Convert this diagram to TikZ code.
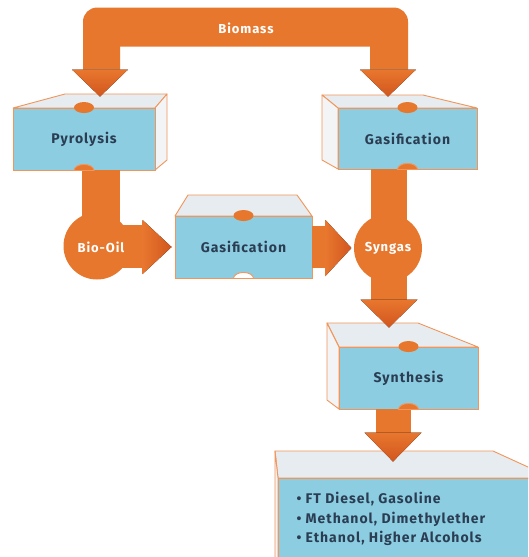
\documentclass[tikz,border=0pt]{standalone}
\usepackage{fontspec}
\setmainfont{Fira Sans}
\newfontfamily\lblfont[LetterSpace=7]{Fira Sans}
\usetikzlibrary{calc}
\definecolor{org}{HTML}{E8772E}
\definecolor{orgdark}{HTML}{D2561E}
\definecolor{orgline}{HTML}{F2955A}
\definecolor{face}{HTML}{8CCDE1}
\definecolor{topf}{HTML}{E6ECF0}
\definecolor{sidef}{HTML}{F2F4F6}
\definecolor{txt}{HTML}{2A3D52}
\tikzset{
  front/.style={draw=orgline, line width=0.9pt, fill=face, inner sep=0pt,
    text=txt, font=\lblfont\bfseries\fontsize{14}{16}\selectfont},
  topface/.style={draw=orgline, line width=0.9pt, fill=topf, line join=round},
  sideface/.style={draw=orgline, line width=0.9pt, fill=sidef, line join=round},
  band/.style={fill=org},
  headv/.style={top color=org, bottom color=orgdark},
  headh/.style={left color=org, right color=orgdark},
  blob/.style={circle, fill=org, minimum size=67pt, inner sep=0pt, text=white,
    font=\lblfont\bfseries\fontsize{13}{15}\selectfont},
  whitelbl/.style={text=white, font=\lblfont\bfseries\fontsize{13}{15}\selectfont},
  dot/.style={fill=org},
}
\newcommand\headDown[3]{\fill[headv] (#1) -- ++(-#2,-#3) -- ++(2*#2,0) -- cycle;}
\newcommand\headRight[3]{\fill[headh] (#1) -- ++(-#3,-#2) -- ++(0,2*#2) -- cycle;}
\newcommand\notch[1]{\draw[draw=orgline, line width=0.9pt, fill=org] ($(#1)+(-10,0)$) arc (180:360:10 and 6) -- cycle;}
\begin{document}
\begin{tikzpicture}[x=1pt,y=-1pt]
\useasboundingbox (0,0) rectangle (528,557);
\clip (0,0) rectangle (528,557);
\fill[white] (0,0) rectangle (528,557);

% ---------- box top and side faces ----------
\draw[topface] (13,108) -- (65,94) -- (167,94) -- (155,108) -- cycle;
\draw[sideface] (155,108) -- (167,94) -- (167,160) -- (155,170) -- cycle;

\draw[topface] (338,108) -- (322,95) -- (423,95) -- (477,108) -- cycle;
\draw[sideface] (322,95) -- (338,108) -- (338,169) -- (322,160) -- cycle;

\draw[topface] (175,216) -- (188,195) -- (297,195) -- (312,216) -- cycle;

\draw[topface] (339,347) -- (327,323) -- (418,323) -- (478,347) -- cycle;
\draw[sideface] (327,323) -- (339,347) -- (339,409) -- (327,400) -- cycle;

\draw[topface] (278,478) -- (275,451) -- (493,451) -- (552,478) -- cycle;
\draw[sideface] (275,451) -- (278,478) -- (278,560) -- (275,560) -- cycle;

% ---------- front faces (process nodes) ----------
\node[front, minimum width=142, minimum height=62] (pyro) at (84,139) {Pyrolysis};
\node[front, minimum width=139, minimum height=61] (gasR) at (407.5,138.5) {Gasification};
\node[front, minimum width=137, minimum height=62] (gasM) at (243.5,247) {Gasification};
\node[front, minimum width=139, minimum height=62] (synth) at (408.5,378) {Synthesis};
\node[front, minimum width=282, minimum height=122] (prod) at (419,539) {};

% top dots
\foreach \n in {pyro,gasR,gasM,synth}
  \fill[dot] (\n.north) ellipse [x radius=10, y radius=5.5];

% ---------- Biomass arrow ----------
\coordinate (tipP) at ($(pyro.north)+(16,-11)$);
\coordinate (tipG) at ($(gasR.north)+(-19.5,-11)$);
\fill[band] ($(tipP)+(-17,-27)$) [rounded corners=14] -- ($(tipP)+(-17,-89)$)
   -- ($(tipG)+(20,-89)$) [sharp corners] -- ($(tipG)+(20,-27)$)
   -- ($(tipG)+(-18,-27)$) -- ($(tipG)+(-18,-50)$) -- ($(tipP)+(20,-50)$)
   -- ($(tipP)+(20,-27)$) -- cycle;
\headDown{tipP}{28}{27}
\headDown{tipG}{28}{27}
\node[whitelbl] (biomass) at (246,28) {Biomass};

% ---------- Pyrolysis -> Bio-Oil -> Gasification ----------
\fill[band] ($(pyro.south)+(-2,0)$) rectangle (120,246);
\notch{pyro.south}
\node[blob] (bio) at (97,246) {};
\coordinate (tipM) at ($(gasM.west)+(-3,0)$);
\fill[band] ($(bio.center)+(0,-21)$) rectangle ($(tipM)+(-29,21)$);
\headRight{tipM}{27}{29}
\node[whitelbl] at ($(bio.center)+(4,1)$) {Bio-Oil};

% ---------- Gasification -> Syngas ----------
\fill[band] (371,169) rectangle (407,302);
\notch{gasR.south}
\fill[band] ($(gasM.east)+(0,-21)$) rectangle ($(gasM.east)+(14,21)$);
\coordinate (tipS) at ($(gasM.east)+(39,1)$);
\headRight{tipS}{28}{26}
\draw[draw=orgline, line width=0.9pt, fill=white] ($(gasM.south)+(-10,0)$) arc (180:360:10 and 6) -- cycle;
\node[blob, minimum size=68pt] (syngas) at (388,248) {Syngas};
\coordinate (tipSy) at ($(synth.north)+(-19.5,-19)$);
\headDown{tipSy}{28.5}{28}

% ---------- Synthesis -> products ----------
\coordinate (tipPr) at ($(prod.north)+(-26,-16)$);
\fill[band] ($(synth.south)+(-33,0)$) rectangle ($(tipPr)+(18,-28)$);
\notch{synth.south}
\headDown{tipPr}{28.5}{29}

\node[anchor=west, align=left, text=txt,
      font=\lblfont\bfseries\fontsize{14}{19.8}\selectfont] (prodtxt) at (293,519)
  {• FT Diesel, Gasoline\\• Methanol, Dimethylether\\• Ethanol, Higher Alcohols};
\end{tikzpicture}
\end{document}
